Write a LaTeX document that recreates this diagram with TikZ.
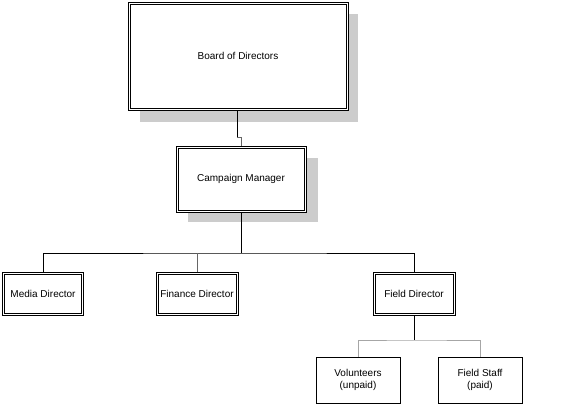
\documentclass[tikz,border=0pt]{standalone}
\usepackage{fontspec}
\setmainfont{Liberation Sans}
\begin{document}
\begin{tikzpicture}[x=1pt,y=1pt,
  sbox/.style={draw=black,line width=0.6pt,fill=white,inner sep=0pt,font=\fontsize{10}{12}\selectfont,align=center},
  box/.style={sbox},
  inner/.style={draw=black,line width=0.6pt},
  shadow/.style={fill=black!20,draw=none},
  ln/.style={line width=0.5pt,draw=black!60},
  tk/.style={line width=1pt,draw=black}]
\useasboundingbox (0,0) rectangle (566,-404);
\fill[shadow] (140,-14) rectangle (358,-122);
\fill[shadow] (188,-158) rectangle (318,-222);
\node[box,minimum width=220pt,minimum height=108pt] (bod) at (238,-56) {Board of Directors};
\node[box,minimum width=130pt,minimum height=66pt] (cm) at (241,-179) {Campaign Manager};
\node[box,minimum width=81pt,minimum height=43pt] (md) at (43,-294) {Media Director};
\node[box,minimum width=82pt,minimum height=43pt] (fd) at (197,-294) {Finance Director};
\node[box,minimum width=82pt,minimum height=43pt] (fld) at (414,-294) {Field Director};
\foreach \n in {bod,cm,md,fd,fld}
  \draw[inner] ([shift={(2.2pt,2.2pt)}]\n.south west) rectangle ([shift={(-2.2pt,-2.2pt)}]\n.north east);
\node[sbox,minimum width=84pt,minimum height=46pt] (vol) at (358,-380) {Volunteers\\(unpaid)};
\node[sbox,minimum width=84pt,minimum height=46pt] (fs) at (480,-380) {Field Staff\\(paid)};
\coordinate (j1) at (241,-253);
\coordinate (j2) at (414,-340);
\coordinate (k1) at (237,-137);
\coordinate (k2) at (241,-137);
\draw[tk] (bod.south -| k1) -- (k1);
\draw[ln] (k1) -- (k2) -- (cm.north);
\draw[tk] (cm.south) -- (j1);
\draw[ln,draw=black] (md.north) |- (j1) -| (fld.north);
\draw[ln] (fd.north) -- (fd.north |- j1);
\draw[tk] (fld.south) -- (j2);
\draw[ln,draw=black!35] (vol.north) |- (j2) -| (fs.north);
\end{tikzpicture}
\end{document}
